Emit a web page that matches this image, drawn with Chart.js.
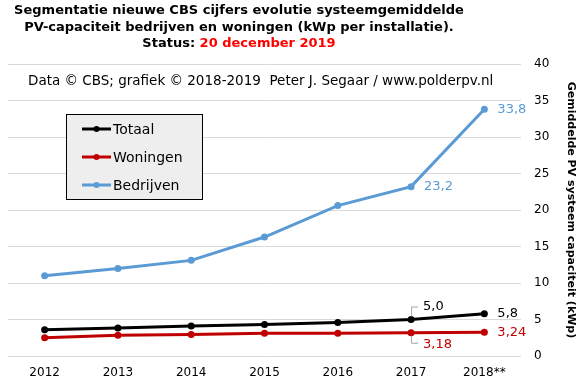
<!DOCTYPE html>
<html>
<head>
<meta charset="utf-8">
<script src="https://cdn.jsdelivr.net/npm/chart.js@4.4.1/dist/chart.umd.min.js"></script>
<style>
    body { margin: 0; background: #fff; }
    #wrap { width: 581px; height: 381px; }
</style>
</head>
<body>
<div id="wrap"><canvas id="chart" width="581" height="381"></canvas></div>
<script>
// data
const years = ['2012', '2013', '2014', '2015', '2016', '2017', '2018**'];
const totaal = [3.6, 3.85, 4.1, 4.3, 4.6, 5.0, 5.8];
const woningen = [2.5, 2.85, 2.95, 3.1, 3.1, 3.18, 3.24];
const bedrijven = [11.0, 12.0, 13.1, 16.3, 20.6, 23.2, 33.8];
const yTicks = [0, 5, 10, 15, 20, 25, 30, 35, 40];

const titleLines = [
    [['Segmentatie nieuwe CBS cijfers evolutie systeemgemiddelde', '#000']],
    [['PV-capaciteit bedrijven en woningen (kWp per installatie).', '#000']],
    [['Status: ', '#000'], ['20 december 2019', '#ff0000']]
];
const credits = 'Data \u00a9 CBS; grafiek \u00a9 2018-2019  Peter J. Segaar / www.polderpv.nl';

// which points get a value label: [dataset, index, decimals, style]
const pointLabels = [
    [2, 6, 1, 'right'],
    [2, 5, 1, 'right'],
    [0, 5, 1, 'bracketUp'],
    [0, 6, 1, 'right'],
    [1, 5, 2, 'bracketDown'],
    [1, 6, 2, 'right']
];

const FONT = '"DejaVu Sans", Verdana, sans-serif';

const titlePlugin = {
    id: 'titleText',
    afterDraw(chart) {
        const ctx = chart.ctx;
        ctx.save();
        ctx.font = 'bold 13px ' + FONT;
        ctx.textBaseline = 'middle';
        const ys = [11, 28, 44];
        titleLines.forEach((parts, i) => {
            const total = parts.reduce((w, p) => w + ctx.measureText(p[0]).width, 0);
            let x = 239 - total / 2;
            parts.forEach(p => {
                ctx.fillStyle = p[1];
                ctx.fillText(p[0], x, ys[i]);
                x += ctx.measureText(p[0]).width;
            });
        });
        ctx.font = '13.5px ' + FONT;
        ctx.fillStyle = '#000';
        ctx.fillText(credits, 28, 81);
        ctx.restore();
    }
};

const legendPlugin = {
    id: 'boxLegend',
    afterDraw(chart) {
        const ctx = chart.ctx;
        ctx.save();
        ctx.fillStyle = '#eeeeee';
        ctx.fillRect(66, 114, 136, 85);
        ctx.strokeStyle = '#000';
        ctx.lineWidth = 1;
        ctx.strokeRect(66.5, 114.5, 136, 85);
        ctx.font = '14px ' + FONT;
        ctx.textBaseline = 'middle';
        chart.data.datasets.forEach((ds, i) => {
            const y = 129 + i * 28;
            ctx.strokeStyle = ds.borderColor;
            ctx.lineWidth = 3;
            ctx.beginPath();
            ctx.moveTo(82, y);
            ctx.lineTo(111, y);
            ctx.stroke();
            ctx.fillStyle = ds.borderColor;
            ctx.beginPath();
            ctx.arc(96.5, y, 3, 0, Math.PI * 2);
            ctx.fill();
            ctx.fillStyle = '#000';
            ctx.fillText(ds.label, 113, y + 1);
        });
        ctx.restore();
    }
};

const labelPlugin = {
    id: 'valueLabels',
    afterDatasetsDraw(chart) {
        const ctx = chart.ctx;
        ctx.save();
        ctx.font = '13px ' + FONT;
        ctx.textBaseline = 'middle';
        pointLabels.forEach(([d, idx, dec, style]) => {
            const ds = chart.data.datasets[d];
            const pt = chart.getDatasetMeta(d).data[idx];
            const text = ds.data[idx].toFixed(dec).replace('.', ',');
            ctx.fillStyle = ds.borderColor;
            if (style === 'right') {
                ctx.fillText(text, pt.x + 13, pt.y);
            } else {
                const up = style === 'bracketUp';
                const ly = up ? pt.y - 13 : pt.y + 10;
                ctx.strokeStyle = '#a6a6a6';
                ctx.lineWidth = 1;
                ctx.beginPath();
                ctx.moveTo(pt.x + 0.5, pt.y + (up ? -3 : 3));
                ctx.lineTo(pt.x + 0.5, ly + 0.5);
                ctx.lineTo(pt.x + 7, ly + 0.5);
                ctx.stroke();
                ctx.fillText(text, pt.x + 12, ly + (up ? 0 : 2));
            }
        });
        ctx.restore();
    }
};

function series(label, data, color) {
    return {
        label: label,
        data: data,
        borderColor: color,
        backgroundColor: color,
        pointBackgroundColor: color,
        pointBorderColor: color,
        borderWidth: 3,
        pointRadius: 3.5,
        pointBorderWidth: 0,
        pointHoverRadius: 3.5,
        tension: 0,
        fill: false
    };
}

new Chart(document.getElementById('chart'), {
    type: 'line',
    data: {
        labels: years,
        datasets: [
            series('Totaal', totaal, '#000000'),
            series('Woningen', woningen, '#c00000'),
            series('Bedrijven', bedrijven, '#5b9bd5')
        ]
    },
    options: {
        responsive: false,
        animation: false,
        layout: { padding: { top: 64, left: 8, right: 0, bottom: 0 } },
        plugins: {
            legend: { display: false },
            title: { display: false },
            tooltip: { enabled: false }
        },
        scales: {
            x: {
                offset: true,
                grid: { display: false, drawTicks: false },
                border: { display: false },
                ticks: { color: '#000', font: { family: FONT, size: 12 }, padding: 10, maxRotation: 0 },
                afterFit: s => { s.height = 25; }
            },
            y: {
                position: 'right',
                min: 0,
                max: 40,
                afterBuildTicks: s => { s.ticks = yTicks.map(v => ({ value: v })); },
                grid: { color: '#d9d9d9', drawTicks: false },
                border: { display: false },
                ticks: { color: '#000', font: { family: FONT, size: 12 }, padding: 13 },
                title: {
                    display: true,
                    text: 'Gemiddelde PV systeem capaciteit (kWp)',
                    color: '#000',
                    font: { family: FONT, size: 11, weight: 'bold' },
                    padding: { top: 4, bottom: 0 }
                },
                afterFit: s => { s.width = 60; }
            }
        }
    },
    plugins: [titlePlugin, legendPlugin, labelPlugin]
});
</script>
</body>
</html>
